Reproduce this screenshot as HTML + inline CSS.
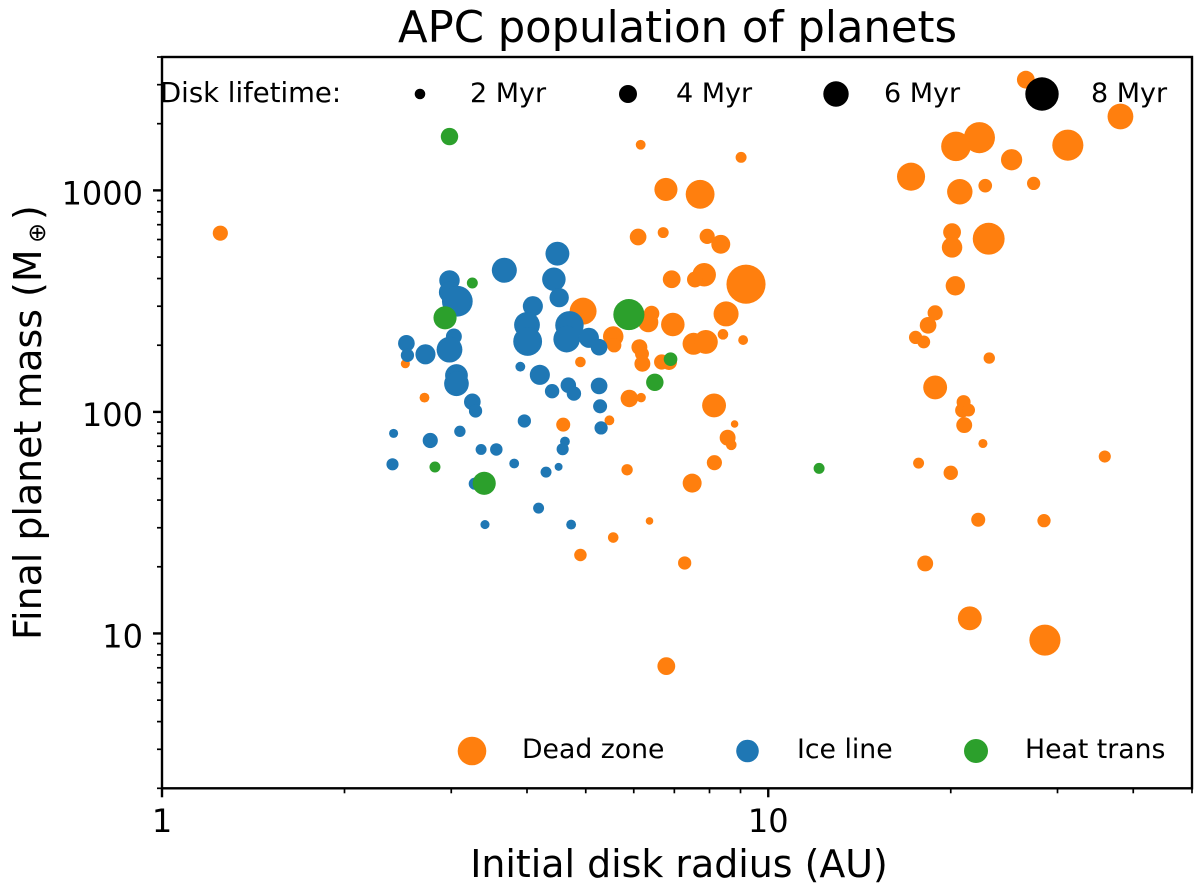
<!DOCTYPE html>
<html lang="en">
<head>
<meta charset="utf-8">
<title>APC population of planets</title>
<style>
  html, body { margin: 0; padding: 0; background: #fff; }
  svg { display: block; font-family: "DejaVu Sans", "Liberation Sans", sans-serif; fill: #000; }
</style>
</head>
<body>
<svg id="chart" xmlns="http://www.w3.org/2000/svg" width="1200" height="892" viewBox="0 0 1200 892">
  <rect x="0" y="0" width="1200" height="892" fill="#fff"/>
  <text x="677.5" y="42" font-size="43.3" text-anchor="middle">APC population of planets</text>
  <g id="marks"></g>
  <g id="axes"></g>
  <rect x="162" y="57" width="1030" height="731.3" fill="none" stroke="#000" stroke-width="2.4"/>
  <text x="679" y="877" font-size="37.9" text-anchor="middle">Initial disk radius (AU)</text>
  <g>
    <text transform="translate(41,640) rotate(-90)" font-size="37.9">Final planet mass (M</text>
    <text transform="translate(45,243) rotate(-90)" font-size="24">⊕</text>
    <text transform="translate(41,220) rotate(-90)" font-size="37.9">)</text>
  </g>
  <g>
    <text x="160" y="102" font-size="27.5">Disk lifetime:</text>
    <circle cx="420" cy="94" r="5.3" fill="#000"/>
    <text x="470" y="102" font-size="27">2 Myr</text>
    <circle cx="628" cy="94" r="9" fill="#000"/>
    <text x="676" y="102" font-size="27">4 Myr</text>
    <circle cx="836" cy="94" r="12.7" fill="#000"/>
    <text x="884" y="102" font-size="27">6 Myr</text>
    <circle cx="1042" cy="94" r="16.7" fill="#000"/>
    <text x="1091" y="102" font-size="27">8 Myr</text>
  </g>
  <g>
    <circle cx="472" cy="751" r="14.3" fill="#ff7f0e"/>
    <text x="522" y="758" font-size="26.7">Dead zone</text>
    <circle cx="747.5" cy="751" r="11.3" fill="#1f77b4"/>
    <text x="797" y="758" font-size="26.7">Ice line</text>
    <circle cx="976" cy="751" r="12" fill="#2ca02c"/>
    <text x="1025" y="758" font-size="26.7">Heat trans</text>
  </g>
</svg>
<script>
// Tick values and labels
var xMajorTicks = [1, 10];
var xMajorLabels = ["1", "10"];
var xMinorTicks = [2, 3, 4, 5, 6, 7, 8, 9, 20, 30, 40, 50];
var yMajorTicks = [10, 100, 1000];
var yMajorLabels = ["10", "100", "1000"];
var yMinorTicks = [2, 3, 4, 5, 6, 7, 8, 9, 20, 30, 40, 50, 60, 70, 80, 90, 200, 300, 400, 500, 600, 700, 800, 900, 2000, 3000, 4000];

// Dead zone series
var deadZoneRadius = [9.19, 4.95, 6.93, 7.84, 7.57, 6.10, 6.71, 7.93, 8.35, 8.52, 6.42, 6.34, 6.96, 5.55, 5.57, 6.13, 6.19, 6.20, 6.67, 6.86, 7.53, 7.89, 8.42, 9.09, 4.90, 2.52, 2.71, 5.90, 6.17, 8.14, 5.47, 4.59, 8.80, 8.57, 8.69, 8.15, 5.85, 7.49, 6.37, 5.55, 4.90, 7.28, 6.79, 1.248, 6.16, 6.78, 7.72, 9.02, 26.6, 38.1, 22.3, 20.4, 31.2, 25.2, 17.2, 20.7, 22.8, 27.4, 20.1, 20.1, 23.1, 20.35, 18.85, 18.35, 17.5, 18.05, 23.15, 18.85, 21.0, 20.9, 21.4, 21.05, 22.6, 17.7, 20.0, 35.9, 22.2, 28.5, 18.15, 21.5, 28.6];
var deadZoneMass = [377, 285, 397, 416, 396, 616, 645, 620, 571, 277, 278, 254, 248, 219, 200, 196, 183, 165, 168, 168, 203, 207, 224, 211, 168, 165, 116, 115, 116, 107, 91.6, 87.6, 88.2, 76.5, 71, 59, 54.8, 47.7, 32.2, 27.1, 22.6, 20.8, 7.12, 641, 1607, 1010, 960, 1410, 3160, 2155, 1730, 1580, 1600, 1375, 1153, 986, 1050, 1075, 648, 553, 605, 371, 280, 246, 217, 207, 175, 129, 110.7, 101.6, 102, 87.2, 72, 58.7, 53.1, 62.9, 32.6, 32.3, 20.7, 11.7, 9.33];
var deadZoneLifetime = [9.5, 6.3, 3.9, 5.4, 3.4, 3.6, 2.1, 3.2, 4.2, 5.8, 3.3, 4.5, 5.4, 4.6, 3.0, 3.4, 2.9, 3.4, 3.2, 3.4, 5.0, 5.5, 2.0, 1.8, 2.0, 1.6, 1.8, 3.8, 1.7, 5.5, 1.8, 2.9, 1.2, 3.4, 2.0, 3.2, 2.2, 4.2, 1.2, 2.0, 2.5, 2.7, 3.9, 3.2, 1.8, 5.3, 6.8, 2.1, 3.9, 6.0, 7.4, 7.0, 7.4, 4.8, 6.6, 5.9, 2.8, 2.7, 3.9, 4.6, 7.6, 4.3, 3.2, 3.6, 2.7, 2.6, 2.2, 5.5, 2.9, 3.0, 2.6, 3.4, 1.6, 2.1, 3.0, 2.4, 2.9, 2.7, 3.4, 5.5, 7.4];

// Ice line series
var iceLineRadius = [4.49, 3.67, 4.43, 4.52, 2.98, 2.98, 3.07, 4.09, 4.00, 4.01, 4.70, 4.65, 5.06, 5.26, 3.03, 2.98, 2.53, 2.54, 2.72, 3.06, 3.06, 3.25, 3.29, 3.90, 4.20, 4.40, 4.68, 4.78, 5.26, 5.28, 5.30, 3.96, 4.62, 4.58, 2.41, 2.77, 3.10, 3.36, 3.56, 2.40, 3.81, 4.30, 4.51, 3.28, 4.18, 3.41, 4.73];
var iceLineMass = [518, 436, 397, 328, 392, 347, 316, 300, 247, 208, 246, 213, 216, 196, 219, 191, 204, 180, 182, 146, 134, 111, 101, 160, 147, 124, 132, 121, 131, 106, 84.7, 91, 73.5, 67.9, 80, 74.3, 81.7, 67.7, 67.7, 58, 58.5, 53.5, 56.5, 47.4, 36.8, 31, 31];
var iceLineLifetime = [5.5, 5.8, 5.4, 4.3, 4.6, 4.8, 7.3, 4.5, 6.0, 6.8, 6.7, 6.2, 4.5, 3.6, 3.4, 6.0, 3.6, 2.7, 4.5, 5.2, 5.7, 3.6, 2.7, 1.8, 4.5, 3.0, 3.3, 3.0, 3.6, 2.9, 2.7, 2.7, 1.8, 2.4, 1.6, 3.2, 2.2, 2.1, 2.5, 2.4, 1.8, 2.1, 1.3, 2.4, 2.1, 1.6, 1.8];

// Heat transition series
var heatTransRadius = [2.98, 3.25, 2.93, 5.89, 6.90, 6.50, 2.82, 3.40, 12.13];
var heatTransMass = [1750, 382, 266, 275, 173, 136, 56.4, 47.6, 55.6];
var heatTransLifetime = [3.8, 2.1, 5.3, 7.4, 2.8, 3.8, 2.1, 5.3, 2.1];

var SVGNS = "http://www.w3.org/2000/svg";
var plotLeft = 162, plotRight = 1192, plotTop = 57, plotBottom = 788.3;
var xMin = 1, xMax = 50, yMin = 2, yMax = 4000;

function xScale(v) {
  return plotLeft + (Math.log10(v) - Math.log10(xMin)) / (Math.log10(xMax) - Math.log10(xMin)) * (plotRight - plotLeft);
}
function yScale(v) {
  return plotBottom - (Math.log10(v) - Math.log10(yMin)) / (Math.log10(yMax) - Math.log10(yMin)) * (plotBottom - plotTop);
}
function sizeScale(t) {
  return 1.5 + 1.9 * t;
}

var marks = document.getElementById("marks");
var axes = document.getElementById("axes");

function drawSeries(radius, mass, lifetime, color, name) {
  for (var i = 0; i < radius.length; i++) {
    var c = document.createElementNS(SVGNS, "circle");
    c.setAttribute("cx", xScale(radius[i]));
    c.setAttribute("cy", yScale(mass[i]));
    c.setAttribute("r", sizeScale(lifetime[i]));
    c.setAttribute("fill", color);
    
    
    marks.appendChild(c);
  }
}
drawSeries(deadZoneRadius, deadZoneMass, deadZoneLifetime, "#ff7f0e", "dead-zone-planet");
drawSeries(iceLineRadius, iceLineMass, iceLineLifetime, "#1f77b4", "ice-line-planet");
drawSeries(heatTransRadius, heatTransMass, heatTransLifetime, "#2ca02c", "heat-trans-planet");

function drawXTick(v, len, width, name) {
  var l = document.createElementNS(SVGNS, "line");
  var x = xScale(v);
  l.setAttribute("x1", x);
  l.setAttribute("x2", x);
  l.setAttribute("y1", plotBottom);
  l.setAttribute("y2", plotBottom + len);
  l.setAttribute("stroke", "#000");
  l.setAttribute("stroke-width", width);
  
  
  axes.appendChild(l);
}
function drawYTick(v, len, width, name) {
  var l = document.createElementNS(SVGNS, "line");
  var y = yScale(v);
  l.setAttribute("x1", plotLeft - len);
  l.setAttribute("x2", plotLeft);
  l.setAttribute("y1", y);
  l.setAttribute("y2", y);
  l.setAttribute("stroke", "#000");
  l.setAttribute("stroke-width", width);
  
  
  axes.appendChild(l);
}
xMinorTicks.forEach(function (v) { drawXTick(v, 5, 1.7, "x-minor-tick"); });
yMinorTicks.forEach(function (v) { drawYTick(v, 5, 1.7, "y-minor-tick"); });
xMajorTicks.forEach(function (v, i) {
  drawXTick(v, 9, 2.4, "x-major-tick");
  var t = document.createElementNS(SVGNS, "text");
  t.setAttribute("x", xScale(v));
  t.setAttribute("y", 832);
  t.setAttribute("font-size", "32");
  t.setAttribute("text-anchor", "middle");
  
  
  t.textContent = xMajorLabels[i];
  axes.appendChild(t);
});
yMajorTicks.forEach(function (v, i) {
  drawYTick(v, 9, 2.4, "y-major-tick");
  var t = document.createElementNS(SVGNS, "text");
  t.setAttribute("x", 143);
  t.setAttribute("y", yScale(v) + 14);
  t.setAttribute("font-size", "32");
  t.setAttribute("text-anchor", "end");
  
  
  t.textContent = yMajorLabels[i];
  axes.appendChild(t);
});
</script>
</body>
</html>
